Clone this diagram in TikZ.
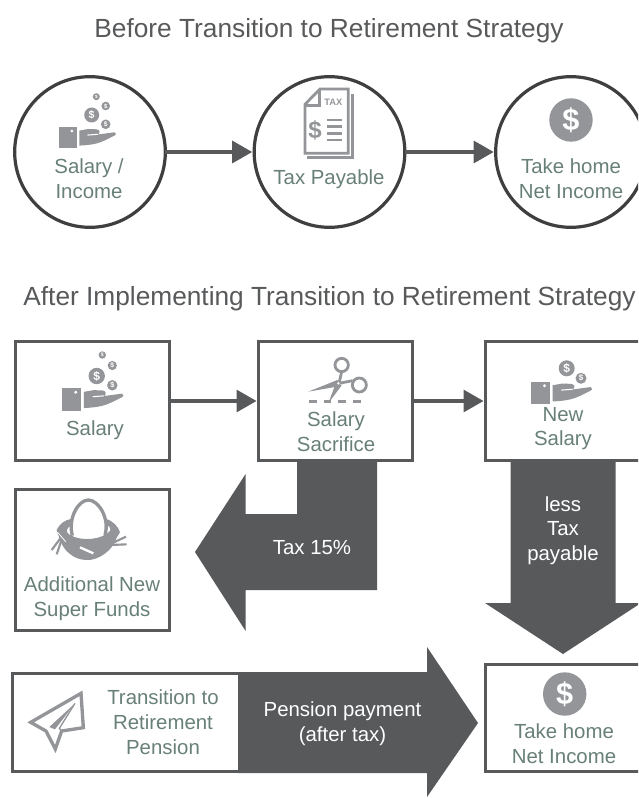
\documentclass[tikz,border=0pt]{standalone}
\usepackage{fontspec}
\setmainfont{Liberation Sans}
\usetikzlibrary{arrows.meta}
\definecolor{darkfill}{HTML}{58595B}
\definecolor{circline}{HTML}{3F3F40}
\definecolor{iconcol}{HTML}{939598}
\definecolor{labelcol}{HTML}{688079}
\definecolor{titlecol}{HTML}{58595B}
\tikzset{
  circlebox/.style={circle,draw=circline,line width=2.4pt,fill=white,minimum size=113pt,inner sep=0pt,outer sep=0pt},
  squarebox/.style={rectangle,draw=darkfill,line width=2.6pt,fill=white,inner sep=0pt,outer sep=0pt},
  flowline/.style={draw=darkfill,line width=2.4pt,-{Triangle[length=15pt,width=16.5pt]},shorten >=1.5pt},
  blockarrow/.style={fill=darkfill,draw=none},
  label/.style={font=\fontsize{15.3}{18.6}\selectfont,text=labelcol,align=center,inner sep=0pt,yshift=-0.4pt},
  whitelabel/.style={font=\fontsize{15.3}{18.6}\selectfont,text=white,align=center,inner sep=0pt,yshift=-0.4pt},
  title/.style={font=\fontsize{19.7}{24}\selectfont,text=titlecol,inner sep=0pt,yshift=-2.2pt},
  iconline/.style={draw=iconcol,line width=#1,fill=none},
  iconline/.default=2.1pt,
}
\newcommand{\coinic}[5]{%
  \fill[iconcol] (#2,#3) circle (#4);
  \node[inner sep=0pt,text=white,font=\fontsize{#5}{#5}\selectfont\bfseries] (#1) at (#2,#3) {\$};
}
\newcommand{\handic}[3]{%
  \begin{scope}[shift={(#1,#2)},x=#3*0.75pt,y=-#3*0.75pt]
    \fill[iconcol] (0,0) rectangle (17.7,21);
    \fill[white] (12.5,3.7) circle (1.5);
    \fill[iconcol] (20,3.3) -- (29,1.7) -- (37.3,2) .. controls (41,2.5) and (41,6) .. (38.5,7.2)
       -- (55,5) .. controls (57,5.5) and (57,7.5) .. (55.7,8) .. controls (48,12) and (42,15) .. (37,16.2)
       .. controls (32,17.5) and (26,18) .. (20,18.3) -- cycle;
    \draw[white,line width=0.8pt] (28,7.8) -- (38.5,7);
  \end{scope}
}
\begin{document}
\begin{tikzpicture}[x=0.75pt,y=-0.75pt]
\useasboundingbox (0,0) rectangle (638,798);
\clip (0,0) rectangle (638,798);
\fill[white] (0,0) rectangle (638,798);

% titles
\node[title] (t1) at (329,28) {Before Transition to Retirement Strategy};
\node[title] (t2) at (329.5,296) {After Implementing Transition to Retirement Strategy};

% block arrows
\path[blockarrow] (377,460) -- (297,460) -- (297,514) -- (245.6,514) -- (245.6,474) -- (195,552)
   -- (245.6,631) -- (245.6,590) -- (377,590) -- cycle;
\path[blockarrow] (510.7,460) -- (510.7,603) -- (485,603) -- (563,654) -- (641,603) -- (615.7,603) -- (615.7,460) -- cycle;
\path[blockarrow] (238,672) -- (427,672) -- (427,647) -- (478,723) -- (427,797) -- (427,773) -- (238,773) -- cycle;

% top row
\node[circlebox] (c1) at (90,152) {};
\node[circlebox] (c2) at (329.5,152) {};
\node[circlebox] (c3) at (571,152) {};
\draw[flowline] (c1.east) -- (c2.west);
\draw[flowline] (c2.east) -- (c3.west);

% boxes
\node[squarebox,minimum width=115.5pt,minimum height=89.25pt] (b1) at (92.5,401) {};
\node[squarebox,minimum width=115.5pt,minimum height=89.25pt] (b2) at (335.5,401) {};
\node[squarebox,minimum width=117.75pt,minimum height=89.25pt] (b3) at (564,401) {};
\node[squarebox,minimum width=115.5pt,minimum height=105.75pt] (b4) at (92.5,560) {};
\node[squarebox,minimum width=170.25pt,minimum height=73.5pt] (b5) at (126,722.5) {};
\node[squarebox,minimum width=117.75pt,minimum height=80.25pt] (b6) at (564,718) {};
\draw[flowline] (b1.east) -- (b2.west);
\draw[flowline] (b2.east) -- (b3.west);

% labels
\node[label] (l1) at (89,178.5) {Salary /\\Income};
\node[label] (l2) at (329,179) {Tax Payable};
\node[label] (l3) at (571,178) {Take home\\Net Income};
\node[label] (l4) at (95,430) {Salary};
\node[label] (l5) at (336,431) {Salary\\Sacrifice};
\node[label] (l6) at (563,428) {New\\Salary};
\node[label] (l7) at (92,598.5) {Additional New\\Super Funds};
\node[label] (l8) at (163,721.5) {Transition to\\Retirement\\Pension};
\node[label] (l9) at (564,743) {Take home\\Net Income};
\node[whitelabel] (w1) at (312,547) {Tax 15\%};
\node[whitelabel] (w2) at (563,530) {less\\Tax\\payable};
\node[whitelabel] (w3) at (342.5,723) {Pension payment\\(after tax)};

% hand + coins, circle
\handic{59.3}{127.3}{1}
\coinic{ca}{91.7}{115}{7.5}{8}
\coinic{cb}{105.7}{106}{4.3}{4.5}
\coinic{cc}{105.7}{124.3}{4.8}{5}
\coinic{cd}{96.3}{96.7}{3.5}{3.5}
% hand + coins, salary box
\handic{62.3}{388.3}{1.08}
\coinic{da}{96.7}{376}{8.2}{9}
\coinic{db}{112.3}{365.5}{4.6}{5}
\coinic{dc}{112.3}{385.3}{5.2}{5.5}
\coinic{dd}{102.3}{355}{3.7}{3.8}
% hand + coins, new salary box
\handic{531}{381.7}{1.08}
\coinic{ea}{566.7}{368.3}{8}{9}
\coinic{eb}{581}{378.3}{5.5}{6}

% dollar discs
\coinic{fa}{571}{120}{21.7}{23}
\coinic{fb}{564.7}{694}{21.7}{23}

% tax document
\begin{scope}[shift={(295,85)},x=0.25pt,y=-0.25pt]
  \draw[iconline,line join=miter] (30,58) -- (75,12) -- (160,12) -- (160,205) -- (30,205) -- cycle;
  \draw[iconline] (30,62) -- (74,62) -- (74,14);
  \draw[iconline] (172,28) -- (172,218) -- (35,218);
  \node[inner sep=0pt,text=iconcol,font=\fontsize{7}{7}\selectfont\bfseries] (taxt) at (115,52) {TAX};
  \node[inner sep=0pt,text=iconcol,font=\fontsize{18}{18}\selectfont\bfseries] (taxd) at (60,137) {\$};
  \foreach \yy in {105,125,145,165} \draw[iconline=2.1pt] (97,\yy) -- (142,\yy);
\end{scope}

% scissors
\begin{scope}[shift={(300,350)},x=0.25pt,y=-0.25pt]
  \draw[iconline] (125,45) circle (20);
  \draw[iconline] (178,105) circle (21);
  \fill[iconcol] (25,125) -- (112,90) -- (122,108) -- cycle;
  \fill[iconcol] (85,160) -- (108,98) -- (125,106) -- cycle;
  \draw[iconline] (117,100) -- (125,65);
  \draw[iconline] (117,100) -- (158,92);
  \fill[white] (115,100) circle (4);
  \foreach \xa/\xb in {28/50,72/93,115/137,160/182} \draw[iconline] (\xa,155) -- (\xb,155);
\end{scope}

% nest
\begin{scope}[shift={(45,495)},x=0.25pt,y=-0.25pt]
  \draw[iconline=1.6pt] (50,125) -- (20,165);
  \draw[iconline=1.6pt] (52,128) -- (35,178);
  \draw[iconline=1.6pt] (190,150) -- (243,125);
  \draw[iconline=1.6pt] (195,150) -- (245,148);
  \fill[iconcol] (35,105) .. controls (45,85) and (60,75) .. (78,72) -- (80,92)
     .. controls (60,100) and (62,112) .. (75,120) .. controls (110,140) and (170,135) .. (195,108)
     .. controls (200,100) and (190,90) .. (183,90) -- (183,72) .. controls (205,78) and (220,95) .. (225,112)
     -- (215,128) .. controls (205,165) and (160,197) .. (125,195) .. controls (85,195) and (55,165) .. (45,135) -- cycle;
  \draw[white,line width=1.75pt] (105,157) -- (145,175);
  \draw[white,line width=0.6pt] (38,112) -- (62,140);
  \draw[iconcol,line width=2.5pt] (82,122) .. controls (68,70) and (100,15) .. (130,15) .. controls (160,15) and (195,70) .. (180,120);
\end{scope}

% paper plane
\begin{scope}[shift={(20,685)},x=0.25pt,y=-0.25pt]
  \draw[iconline=2.5pt,line join=miter] (183,25) -- (32,112) -- (78,138) -- (106,192) -- (125,138) -- (190,128) -- cycle;
  \fill[iconcol] (165,55) -- (88,126) -- (105,133) -- cycle;
  \draw[iconline=1pt] (165,55) -- (118,130) -- (125,138);
\end{scope}
\end{tikzpicture}
\end{document}
